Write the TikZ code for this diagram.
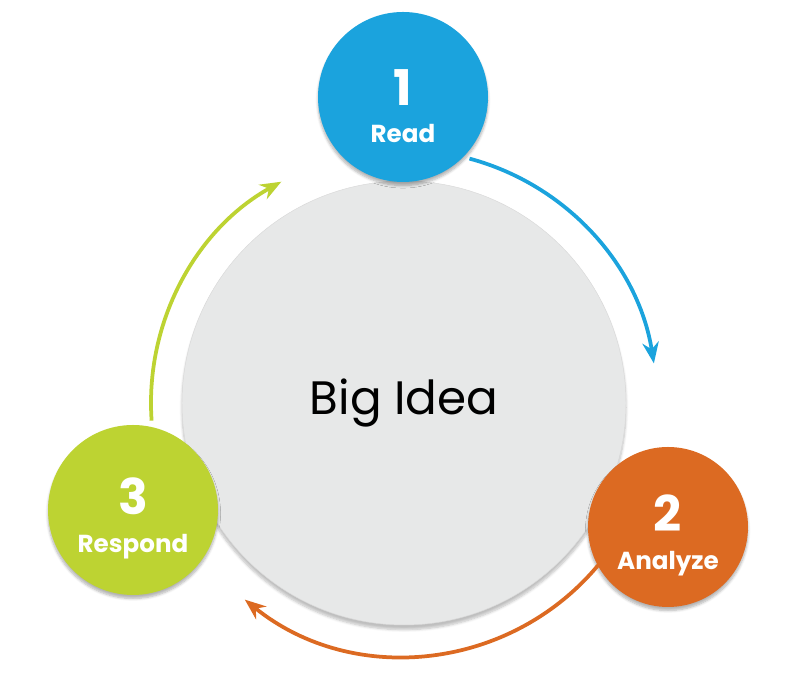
\documentclass[tikz,border=0pt]{standalone}
\usepackage{fontspec}
\setmainfont{Poppins}
\usetikzlibrary{arrows.meta,shadows.blur}
\definecolor{readblue}{HTML}{1BA3DD}
\definecolor{analyzeorange}{HTML}{DC6A22}
\definecolor{respondgreen}{HTML}{BDD332}
\definecolor{ideagray}{HTML}{E7E8E8}
\newcommand{\stepnum}[1]{\rule{0pt}{46pt}{\fontsize{42}{44}\selectfont #1}}
\begin{document}
\begin{tikzpicture}[x=0.03cm,y=0.03cm,
bigidea/.style = {shape = circle, draw = black!15, fill = ideagray, minimum size = 444*0.03cm, inner sep = 0, blur shadow = {shadow blur steps = 6, shadow xshift = 0, shadow yshift = -4pt, shadow opacity = 25}},
step/.style = {shape = circle, fill = #1, text = white, minimum size = 170*0.03cm, inner sep = 0, align = center, font = \fontsize{21}{26}\selectfont\bfseries, blur shadow = {shadow blur steps = 6, shadow xshift = 0, shadow yshift = -3pt, shadow opacity = 30}},
cycle/.style = {line width = 3.2pt, -{Stealth[length = 18pt, width = 14pt]}},
]
\useasboundingbox (0,0) rectangle (800,684);
\node[bigidea] (idea) at (404,281) {\fontsize{40}{44}\selectfont Big Idea};
\node[step = readblue] (read) at (403,587) {\stepnum{1}\\[6pt]Read};
\node[step = analyzeorange, minimum size = 160*0.03cm] (analyze) at (668,157) {\stepnum{2}\\[6pt]Analyze};
\node[step = respondgreen] (respond) at (133,174) {\stepnum{3}\\[6pt]Respond};
% cycle arrows around the big idea
\draw[cycle, readblue] (idea.center) ++(75:253) arc[start angle = 75, end angle = 9, radius = 253];
\draw[cycle, analyzeorange] (idea.center) ++(-39:253) arc[start angle = -39, end angle = -129, radius = 253];
\draw[cycle, respondgreen] (idea.center) ++(184:253) arc[start angle = 184, end angle = 119, radius = 253];
\end{tikzpicture}
\end{document}
